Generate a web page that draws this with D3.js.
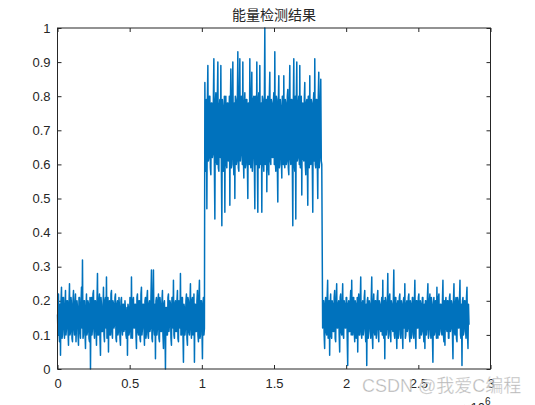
<!DOCTYPE html>
<html>
<head>
<meta charset="utf-8">
<script src="https://cdn.jsdelivr.net/npm/d3@7"></script>
<style>
  body { margin: 0; background: #fff; }
  svg { display: block; }
  .tick text { font-family: "Liberation Sans", Arial, Helvetica, sans-serif; font-size: 13px; fill: #262626; }
</style>
</head>
<body>
<svg id="chart" width="535" height="405"></svg>
<script>
// energy of the received signal (noise / burst / noise)
const noiseA = [
  0.16,0.10,0.22,0.11,0.08,0.19,0.04,0.20,0.24,0.09,0.10,0.21,0.21,0.12,0.09,0.18,0.23,0.10,0.12,0.20,
  0.20,0.11,0.07,0.19,0.25,0.10,0.11,0.21,0.19,0.09,0.08,0.20,0.23,0.12,0.10,0.19,0.22,0.08,0.13,0.20,
  0.18,0.10,0.07,0.21,0.21,0.11,0.09,0.19,0.24,0.12,0.32,0.09,0.10,0.20,0.20,0.11,0.06,0.18,0.22,0.10,
  0.11,0.20,0.19,0.09,0.08,0.21,0.00,0.19,0.21,0.10,0.12,0.22,0.23,0.11,0.09,0.20,0.20,0.12,0.07,0.19,
  0.28,0.10,0.10,0.20,0.22,0.09,0.04,0.21,0.19,0.11,0.11,0.18,0.24,0.10,0.08,0.20,0.21,0.12,0.27,0.09,
  0.12,0.21,0.05,0.19,0.20,0.10,0.10,0.22,0.23,0.11,0.09,0.20,0.19,0.12,0.13,0.21,0.22,0.09,0.08,0.19,
  0.20,0.10,0.11,0.21,0.18,0.09,0.07,0.20,0.21,0.12,0.10,0.19,0.19,0.11,0.12,0.20,0.17,0.10,0.09,0.18,
  0.04,0.19,0.18,0.10,0.11,0.21,0.20,0.09,0.27,0.11,0.09,0.20,0.21,0.12,0.12,0.19,0.19,0.10,0.06,0.21,
  0.22,0.11,0.10,0.20,0.20,0.09,0.08,0.22,0.24,0.10,0.12,0.19,0.19,0.12,0.07,0.20,0.21,0.09,0.11,0.21,
  0.23,0.10,0.09,0.19,0.20,0.11,0.12,0.21,0.29,0.09,0.08,0.20,0.29,0.12,0.10,0.19,0.03,0.20,0.21,0.10,
  0.12,0.20,0.22,0.09,0.08,0.21,0.19,0.11,0.11,0.20,0.23,0.10,0.06,0.19,0.20,0.12,0.00,0.18,0.18,0.10,
  0.10,0.21,0.22,0.11,0.13,0.20,0.19,0.09,0.07,0.21,0.21,0.12,0.26,0.10,0.09,0.19,0.20,0.11,0.11,0.20,
  0.23,0.09,0.08,0.20,0.19,0.12,0.28,0.10,0.10,0.21,0.21,0.11,0.02,0.19,0.18,0.10,0.12,0.20,0.22,0.09,
  0.07,0.21,0.20,0.11,0.10,0.19,0.25,0.12,0.09,0.20,0.21,0.10,0.12,0.22,0.02,0.19,0.19,0.11,0.11,0.20,
  0.23,0.10,0.08,0.21,0.26,0.09,0.10,0.20,0.20,0.12,0.03,0.19,0.21,0.10,0.12
];
const burst = [
  0.84,0.60,0.58,0.79,0.47,0.78,0.89,0.61,0.62,0.80,0.80,0.59,0.57,0.78,0.78,0.62,0.63,0.79,0.91,0.60,
  0.44,0.78,0.81,0.61,0.60,0.80,0.90,0.59,0.58,0.77,0.79,0.62,0.89,0.60,0.42,0.79,0.77,0.58,0.61,0.80,
  0.46,0.79,0.80,0.60,0.59,0.78,0.78,0.61,0.62,0.80,0.48,0.77,0.88,0.59,0.60,0.79,0.90,0.62,0.57,0.78,
  0.50,0.80,0.79,0.60,0.61,0.78,0.93,0.59,0.58,0.79,0.91,0.61,0.63,0.80,0.78,0.60,0.90,0.62,0.56,0.77,
  0.81,0.59,0.60,0.79,0.79,0.61,0.50,0.78,0.77,0.60,0.91,0.62,0.59,0.80,0.87,0.58,0.62,0.79,0.80,0.61,
  0.47,0.80,0.78,0.60,0.90,0.61,0.46,0.79,0.81,0.59,0.89,0.62,0.60,0.78,0.46,0.80,0.79,0.61,0.58,0.77,
  1.00,0.60,0.61,0.79,0.52,0.78,0.80,0.59,0.57,0.80,0.87,0.61,0.60,0.79,0.78,0.62,0.62,0.78,0.81,0.60,
  0.93,0.61,0.58,0.80,0.79,0.60,0.49,0.78,0.86,0.59,0.60,0.79,0.77,0.62,0.56,0.80,0.80,0.60,0.86,0.61,
  0.59,0.79,0.78,0.60,0.61,0.80,0.82,0.59,0.57,0.78,0.89,0.62,0.60,0.79,0.79,0.61,0.42,0.78,0.91,0.60,
  0.58,0.80,0.44,0.79,0.90,0.61,0.62,0.78,0.80,0.60,0.89,0.59,0.59,0.80,0.51,0.77,0.78,0.62,0.61,0.79,
  0.84,0.60,0.57,0.78,0.79,0.61,0.48,0.80,0.80,0.59,0.86,0.62,0.60,0.79,0.78,0.60,0.46,0.78,0.81,0.61,
  0.91,0.60,0.59,0.79,0.79,0.61,0.50,0.80,0.87,0.59,0.62,0.78,0.85,0.61,0.60
];
const noiseB = [
  0.12,0.20,0.20,0.10,0.06,0.19,0.21,0.11,0.10,0.21,0.26,0.09,0.12,0.20,0.04,0.19,0.22,0.10,0.09,0.20,
  0.19,0.11,0.11,0.21,0.23,0.09,0.08,0.20,0.25,0.12,0.12,0.19,0.20,0.10,0.05,0.21,0.22,0.11,0.10,0.19,
  0.25,0.10,0.09,0.20,0.19,0.12,0.12,0.21,0.21,0.09,0.01,0.19,0.20,0.11,0.11,0.20,0.23,0.10,0.26,0.12,
  0.10,0.21,0.21,0.11,0.08,0.20,0.19,0.09,0.12,0.21,0.05,0.19,0.22,0.10,0.10,0.20,0.27,0.11,0.09,0.19,
  0.20,0.10,0.12,0.21,0.23,0.11,0.08,0.19,0.01,0.20,0.21,0.09,0.11,0.20,0.19,0.12,0.09,0.21,0.27,0.10,
  0.06,0.19,0.22,0.11,0.10,0.20,0.20,0.09,0.12,0.21,0.23,0.10,0.08,0.20,0.19,0.12,0.11,0.19,0.21,0.10,
  0.26,0.11,0.09,0.20,0.03,0.21,0.20,0.10,0.12,0.19,0.28,0.09,0.10,0.21,0.22,0.11,0.08,0.20,0.19,0.12,
  0.11,0.20,0.29,0.10,0.09,0.21,0.21,0.11,0.06,0.19,0.20,0.09,0.12,0.21,0.22,0.10,0.09,0.20,0.19,0.11,
  0.06,0.20,0.21,0.12,0.25,0.09,0.10,0.19,0.20,0.11,0.12,0.21,0.22,0.10,0.08,0.20,0.19,0.09,0.11,0.21,
  0.21,0.10,0.09,0.19,0.26,0.11,0.06,0.20,0.20,0.12,0.12,0.21,0.22,0.09,0.09,0.20,0.19,0.10,0.11,0.21,
  0.21,0.11,0.08,0.19,0.06,0.20,0.20,0.10,0.12,0.21,0.25,0.09,0.10,0.20,0.22,0.12,0.09,0.21,0.19,0.10,
  0.02,0.19,0.21,0.10,0.11,0.20,0.20,0.09,0.24,0.11,0.09,0.21,0.22,0.10,0.12,0.19,0.19,0.11,0.10,0.20,
  0.26,0.10,0.08,0.20,0.07,0.19,0.21,0.12,0.11,0.20,0.20,0.09,0.09,0.21,0.22,0.11,0.12,0.20,0.19,0.10,
  0.03,0.20,0.25,0.11,0.10,0.19,0.21,0.09,0.08,0.21,0.20,0.12,0.12,0.20,0.26,0.10,0.09,0.19,0.01,0.20,
  0.21,0.10,0.11,0.20,0.20,0.12,0.09,0.21,0.24,0.10,0.06,0.19,0.13
];
// sample index range covered by each piece
const segStart = [0, 1.021e6, 1.837e6];
const segEnd = [1.018e6, 1.831e6, 2.851e6];

const xTicks = [0, 0.5e6, 1e6, 1.5e6, 2e6, 2.5e6, 3e6];
const yTicks = [0, 0.1, 0.2, 0.3, 0.4, 0.5, 0.6, 0.7, 0.8, 0.9, 1];
const title = '能量检测结果';

const svg = d3.select('#chart');
const pl = 57.5, pr = 490.5, pt = 28, pb = 369;

const x = d3.scaleLinear().domain([0, 3e6]).range([pl, pr]);
const y = d3.scaleLinear().domain([0, 1]).range([pb, pt]);

const points = [];
[noiseA, burst, noiseB].forEach((vals, k) => {
  const step = (segEnd[k] - segStart[k]) / (vals.length - 1);
  vals.forEach((v, i) => points.push([segStart[k] + i * step, v]));
});

// axes (ticks point inward like matlab)
const fmtX = d => d3.format('~g')(d / 1e6);
const fmtY = d => d3.format('~g')(d);

svg.append('g')
  .attr('transform', `translate(0,${pb})`)
  .call(d3.axisBottom(x).tickValues(xTicks).tickFormat(fmtX).tickSizeInner(-4).tickSizeOuter(0).tickPadding(10))
  .call(g => g.select('.domain').remove());

svg.append('g')
  .attr('transform', `translate(${pl},0)`)
  .call(d3.axisLeft(y).tickValues(yTicks).tickFormat(fmtY).tickSizeInner(-4).tickSizeOuter(0).tickPadding(7))
  .call(g => g.select('.domain').remove());

svg.append('g')
  .attr('transform', `translate(0,${pt})`)
  .call(d3.axisTop(x).tickValues(xTicks).tickFormat('').tickSizeInner(-4).tickSizeOuter(0))
  .call(g => g.select('.domain').remove());

svg.append('g')
  .attr('transform', `translate(${pr},0)`)
  .call(d3.axisRight(y).tickValues(yTicks).tickFormat('').tickSizeInner(-4).tickSizeOuter(0))
  .call(g => g.select('.domain').remove());

svg.selectAll('.tick line').attr('stroke', '#262626');

svg.append('path')
  .datum(points)
  .attr('fill', 'none')
  .attr('stroke', '#0072BD')
  .attr('stroke-width', 1.5)
  .attr('stroke-linejoin', 'round')
  .attr('d', d3.line().x(d => x(d[0])).y(d => y(d[1])));

svg.append('rect')
  .attr('x', pl).attr('y', pt)
  .attr('width', pr - pl).attr('height', pb - pt)
  .attr('fill', 'none').attr('stroke', '#262626').attr('stroke-width', 1);

svg.append('text')
  .attr('x', (pl + pr) / 2).attr('y', 20)
  .attr('text-anchor', 'middle')
  .attr('font-family', '"Noto Sans CJK SC", sans-serif')
  .attr('font-size', 14)
  .attr('fill', '#262626')
  .text(title);

// exponent label, mostly below the visible area
const ex = svg.append('text')
  .attr('x', pr).attr('y', 412)
  .attr('text-anchor', 'end')
  .attr('font-family', '"Liberation Sans", Arial, sans-serif')
  .attr('font-size', 13)
  .attr('fill', '#262626');
ex.append('tspan').text('×10');
ex.append('tspan').attr('dy', -7).attr('font-size', 10).text('6');

// watermark
svg.append('text')
  .attr('x', 362).attr('y', 392)
  .attr('font-family', '"Liberation Sans", "Noto Sans CJK SC", sans-serif')
  .attr('font-size', 18)
  .attr('fill', 'rgba(160,160,160,0.75)')
  .attr('stroke', 'rgba(255,255,255,0.6)')
  .attr('stroke-width', 0.6)
  .text('CSDN @我爱C编程');
</script>
</body>
</html>
